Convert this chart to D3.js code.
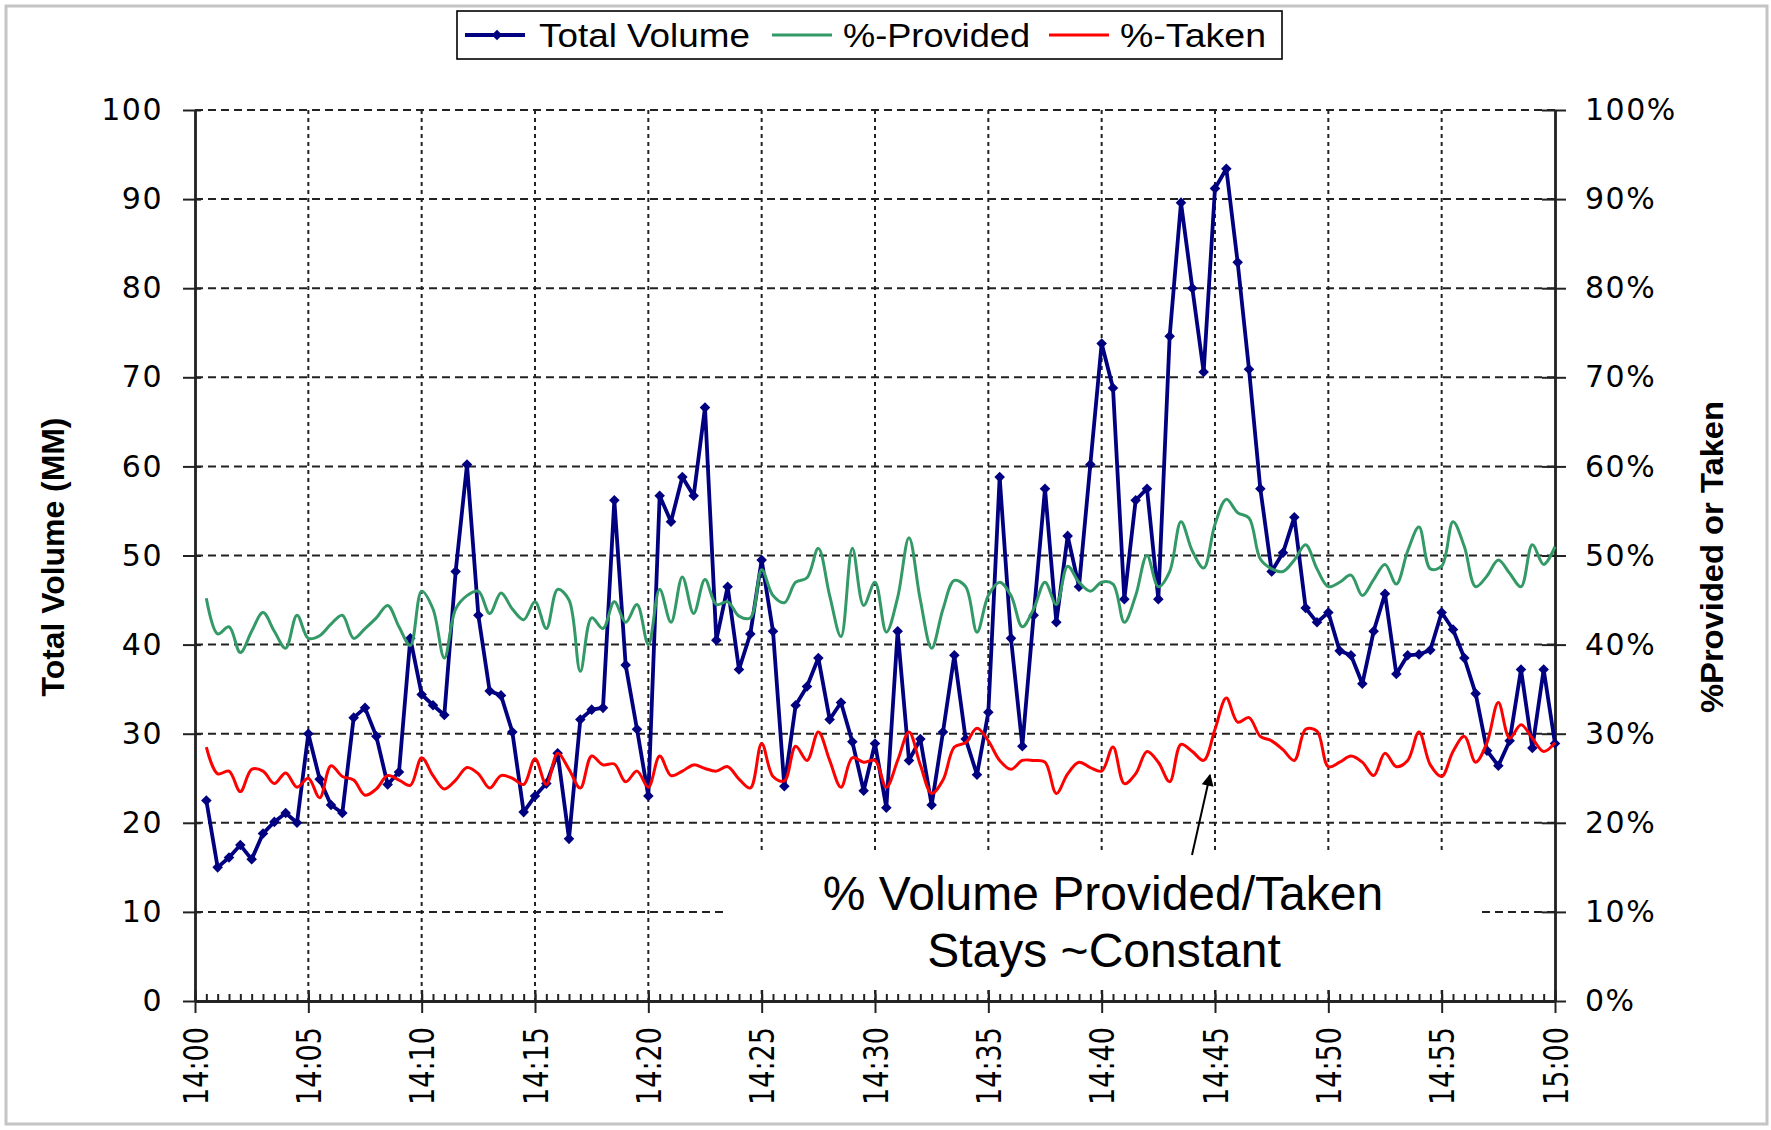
<!DOCTYPE html>
<html>
<head>
<meta charset="utf-8">
<script src="https://cdn.jsdelivr.net/npm/d3@7"></script>
<style>
  body { margin: 0; background: #fff; }
  text { fill: #000; }
</style>
</head>
<body>
<div id="chart"></div>
<script>
// readings every 30 seconds, first one at 14:00:30
var volume = [
    22.5, 15.0, 16.1, 17.5, 15.9, 18.8, 20.1, 21.1, 20.0, 30.0,
    24.9, 22.0, 21.1, 31.8, 32.9, 29.7, 24.3, 25.7, 40.7, 34.4,
    33.2, 32.1, 48.2, 60.2, 43.3, 34.8, 34.3, 30.2, 21.2, 23.0,
    24.4, 27.8, 18.2, 31.6, 32.7, 32.9, 56.2, 37.7, 30.5, 23.0,
    56.7, 53.8, 58.8, 56.7, 66.6, 40.5, 46.5, 37.2, 41.2, 49.5,
    41.5, 24.1, 33.2, 35.3, 38.5, 31.6, 33.5, 29.1, 23.6, 28.9,
    21.7, 41.5, 27.0, 29.4, 22.0, 30.2, 38.8, 29.4, 25.4, 32.4,
    58.8, 40.7, 28.6, 43.3, 57.5, 42.5, 52.2, 46.5, 60.2, 73.8,
    68.8, 45.1, 56.2, 57.5, 45.1, 74.6, 89.6, 80.0, 70.6, 91.2,
    93.4, 82.9, 70.9, 57.5, 48.2, 50.3, 54.3, 44.1, 42.5, 43.6,
    39.3, 38.8, 35.6, 41.5, 45.7, 36.7, 38.8, 38.9, 39.4, 43.6,
    41.7, 38.5, 34.5, 28.1, 26.4, 29.2, 37.2, 28.4, 37.2, 28.9
];
var provided = [
    45.2, 41.2, 42.0, 39.1, 41.5, 43.6, 41.5, 39.6, 43.3, 40.7,
    41.0, 42.3, 43.3, 40.7, 41.8, 43.0, 44.4, 42.0, 39.9, 46.0,
    44.0, 38.5, 44.0, 45.5, 46.0, 43.5, 45.8, 44.0, 42.8, 44.8,
    41.8, 46.2, 45.0, 37.0, 43.0, 41.8, 44.8, 42.5, 44.5, 40.0,
    46.2, 42.5, 47.6, 43.5, 47.3, 44.5, 44.8, 43.2, 43.0, 48.4,
    45.5, 44.7, 47.0, 47.5, 50.8, 45.5, 40.9, 50.8, 44.4, 47.0,
    41.4, 45.3, 52.0, 45.0, 39.6, 44.0, 47.2, 46.5, 41.4, 45.5,
    47.0, 45.5, 42.0, 44.0, 47.0, 44.5, 48.8, 47.0, 46.0, 47.0,
    46.8, 42.5, 45.5, 50.0, 46.5, 48.2, 53.8, 50.5, 48.6, 53.5,
    56.3, 54.8, 54.2, 49.6, 48.5, 48.2, 49.5, 51.2, 48.5, 46.5,
    47.0, 47.8, 45.5, 47.3, 49.0, 46.8, 50.5, 53.2, 48.5, 48.8,
    53.8, 51.0, 46.5, 47.7, 49.5, 48.0, 46.5, 51.2, 49.0, 51.0
];
var taken = [
    28.5, 25.5, 25.8, 23.5, 26.0, 25.8, 24.4, 25.6, 24.0, 25.0,
    22.8, 26.4, 25.2, 24.8, 23.1, 23.8, 25.3, 24.8, 24.2, 27.3,
    25.3, 23.8, 24.8, 26.2, 25.5, 23.9, 25.3, 25.0, 24.3, 27.2,
    24.3, 27.8, 26.0, 23.9, 27.5, 26.5, 26.6, 24.6, 25.8, 24.0,
    27.5, 25.3, 25.8, 26.5, 26.1, 25.8, 26.3, 24.9, 23.9, 28.9,
    25.2, 24.7, 28.6, 27.0, 30.2, 27.0, 24.0, 27.3, 26.8, 27.0,
    24.0, 27.0, 30.2, 26.5, 23.3, 24.8, 28.5, 29.0, 30.6, 29.2,
    27.0, 26.0, 27.0, 27.0, 26.8, 23.3, 25.5, 26.8, 26.2, 25.8,
    28.5, 24.4, 25.5, 28.0, 26.8, 24.6, 28.8, 28.0, 27.0, 30.5,
    34.0, 31.3, 31.8, 29.7, 29.2, 28.2, 27.0, 30.5, 30.3, 26.3,
    26.8, 27.5, 26.8, 25.3, 27.8, 26.3, 27.0, 30.2, 26.5, 25.2,
    28.0, 29.7, 26.8, 29.0, 33.5, 29.5, 31.0, 29.5, 28.0, 29.0
];
var timeTicks = ["14:00", "14:05", "14:10", "14:15", "14:20", "14:25", "14:30",
                 "14:35", "14:40", "14:45", "14:50", "14:55", "15:00"];
var valueTicks = [0, 10, 20, 30, 40, 50, 60, 70, 80, 90, 100];
var startTime = "14:00";
var stepSeconds = 30;

var width = 1771, height = 1130;
var margin = {top: 110, right: 216, bottom: 129, left: 195};
var parseTime = d3.timeParse("%H:%M");
var start = parseTime(startTime);

var x = d3.scaleTime()
    .domain([parseTime(timeTicks[0]), parseTime(timeTicks[timeTicks.length - 1])])
    .range([margin.left, width - margin.right]);
var y = d3.scaleLinear().domain([0, 100]).range([height - margin.bottom, margin.top]);
var y2 = d3.scaleLinear().domain([0, 100]).range([height - margin.bottom, margin.top]);

function toPoints(values) {
    return values.map(function(v, i) {
        return {time: d3.timeSecond.offset(start, (i + 1) * stepSeconds), value: v};
    });
}

var svg = d3.select("#chart").append("svg")
    .attr("width", width)
    .attr("height", height);

svg.append("rect").attr("width", width).attr("height", height).attr("fill", "#fff");
// chart area border
svg.append("rect")
    .attr("x", 6).attr("y", 6).attr("width", 1761).attr("height", 1118)
    .attr("fill", "none").attr("stroke", "#c4c4c4").attr("stroke-width", 3);

var x0 = x.range()[0], x1 = x.range()[1];
var yb = y.range()[0], yt = y.range()[1];

// gridlines
svg.append("g").selectAll("line")
    .data(valueTicks.slice(1))
    .enter().append("line")
        .attr("x1", x0).attr("x2", x1)
        .attr("y1", function(d) { return y(d); })
        .attr("y2", function(d) { return y(d); })
        .attr("stroke", "#222").attr("stroke-width", 2)
        .attr("stroke-dasharray", "8,5");
svg.append("g").selectAll("line")
    .data(timeTicks.slice(1, -1).map(parseTime))
    .enter().append("line")
        .attr("x1", function(d) { return x(d); })
        .attr("x2", function(d) { return x(d); })
        .attr("y1", yt).attr("y2", yb)
        .attr("stroke", "#222").attr("stroke-width", 2)
        .attr("stroke-dasharray", "4,4");

// white box behind the note
svg.append("rect")
    .attr("x", 728).attr("y", 853).attr("width", 752).attr("height", 135)
    .attr("fill", "#fff");

// axes
function styleAxis(g) {
    g.selectAll(".domain").attr("stroke", "#222").attr("stroke-width", 2.4);
    g.selectAll(".tick line").attr("stroke", "#222").attr("stroke-width", 2);
    g.selectAll("text").style("font-family", "'DejaVu Sans', sans-serif")
        .style("font-size", "30px").style("letter-spacing", "1.5px").attr("fill", "#000");
}

svg.append("g")
    .attr("transform", "translate(" + x0 + ",0)")
    .call(d3.axisLeft(y).tickValues(valueTicks).tickSize(12).tickPadding(20).tickSizeOuter(0))
    .call(styleAxis);
svg.append("g")
    .attr("transform", "translate(" + x0 + ",0)")
    .call(d3.axisRight(y).tickValues(valueTicks).tickSize(6).tickFormat("").tickSizeOuter(0))
    .call(styleAxis);

svg.append("g")
    .attr("transform", "translate(" + x1 + ",0)")
    .call(d3.axisRight(y2).tickValues(valueTicks).tickSize(11).tickPadding(19).tickSizeOuter(0)
        .tickFormat(function(d) { return d + "%"; }))
    .call(styleAxis);
svg.append("g")
    .attr("transform", "translate(" + x1 + ",0)")
    .call(d3.axisLeft(y2).tickValues(valueTicks).tickSize(13).tickFormat("").tickSizeOuter(0))
    .call(styleAxis);

svg.append("g")
    .attr("transform", "translate(0," + yb + ")")
    .call(d3.axisTop(x).ticks(d3.timeSecond.every(stepSeconds)).tickSize(7).tickFormat("").tickSizeOuter(0))
    .call(styleAxis);
svg.append("g")
    .attr("transform", "translate(0," + yb + ")")
    .call(d3.axisTop(x).tickValues(timeTicks.map(parseTime)).tickSize(11).tickFormat("").tickSizeOuter(0))
    .call(styleAxis);
var xAxis = svg.append("g")
    .attr("transform", "translate(0," + yb + ")")
    .call(d3.axisBottom(x).tickValues(timeTicks.map(parseTime)).tickSize(12).tickSizeOuter(0)
        .tickFormat(d3.timeFormat("%H:%M")))
    .call(styleAxis);
xAxis.selectAll("text")
    .attr("transform", "rotate(-90)")
    .attr("x", -26).attr("y", 0).attr("dy", "0.36em")
    .attr("textLength", 78).attr("lengthAdjust", "spacingAndGlyphs")
    .style("text-anchor", "end")
    .style("letter-spacing", "0px")
    .style("font-size", "34px");

// axis titles
svg.append("text")
    .attr("transform", "translate(53,557) rotate(-90)")
    .attr("text-anchor", "middle").attr("dy", "0.35em")
    .attr("textLength", 279).attr("lengthAdjust", "spacingAndGlyphs")
    .style("font-family", "'Liberation Sans', Arial, sans-serif")
    .style("font-weight", "bold").style("font-size", "32px")
    .text("Total Volume (MM)");
svg.append("text")
    .attr("transform", "translate(1712,557) rotate(-90)")
    .attr("text-anchor", "middle").attr("dy", "0.35em")
    .attr("textLength", 312).attr("lengthAdjust", "spacingAndGlyphs")
    .style("font-family", "'Liberation Sans', Arial, sans-serif")
    .style("font-weight", "bold").style("font-size", "32px")
    .text("%Provided or Taken");

// series
var volumeLine = d3.line()
    .x(function(d) { return x(d.time); })
    .y(function(d) { return y(d.value); });
var pctLine = d3.line()
    .curve(d3.curveCatmullRom)
    .x(function(d) { return x(d.time); })
    .y(function(d) { return y2(d.value); });

var volumePts = toPoints(volume);
svg.append("path")
    .datum(volumePts)
    .attr("fill", "none").attr("stroke", "#000080").attr("stroke-width", 3.8)
    .attr("stroke-linejoin", "round")
    .attr("d", volumeLine);
var diamond = d3.symbol().type(d3.symbolSquare).size(56);
svg.append("g").selectAll("path")
    .data(volumePts)
    .enter().append("path")
        .attr("d", diamond)
        .attr("transform", function(d) { return "translate(" + x(d.time) + "," + y(d.value) + ") rotate(45)"; })
        .attr("fill", "#000080");

svg.append("path")
    .datum(toPoints(provided))
    .attr("fill", "none").attr("stroke", "#339966").attr("stroke-width", 3)
    .attr("d", pctLine);
svg.append("path")
    .datum(toPoints(taken))
    .attr("fill", "none").attr("stroke", "#ff0000").attr("stroke-width", 3)
    .attr("d", pctLine);

// note and arrow
svg.append("defs").append("marker")
    .attr("id", "head").attr("viewBox", "0 0 10 10")
    .attr("refX", 9).attr("refY", 5)
    .attr("markerWidth", 16).attr("markerHeight", 12)
    .attr("markerUnits", "userSpaceOnUse")
    .attr("orient", "auto")
    .append("path").attr("d", "M0,0L10,5L0,10z").attr("fill", "#000");
svg.append("line")
    .attr("x1", 1192).attr("y1", 855).attr("x2", 1210).attr("y2", 775)
    .attr("stroke", "#000").attr("stroke-width", 2)
    .attr("marker-end", "url(#head)");

var note = svg.append("text")
    .attr("text-anchor", "middle")
    .style("font-family", "'Liberation Sans', Arial, sans-serif")
    .style("font-size", "48px");
note.append("tspan").attr("x", 1103).attr("y", 910).text("% Volume Provided/Taken");
note.append("tspan").attr("x", 1104).attr("y", 967).text("Stays ~Constant");

// legend
function drawLegend() {
    var lg = svg.append("g");
    lg.append("rect")
        .attr("x", 457).attr("y", 11).attr("width", 825).attr("height", 48)
        .attr("fill", "#fff").attr("stroke", "#000").attr("stroke-width", 1.6);
    var items = [
        {name: "Total Volume", color: "#000080", lx: 465, tx: 539, tw: 211, marker: true},
        {name: "%-Provided", color: "#339966", lx: 772, tx: 843, tw: 187, marker: false},
        {name: "%-Taken", color: "#ff0000", lx: 1049, tx: 1120, tw: 146, marker: false}
    ];
    items.forEach(function(it) {
        lg.append("line")
            .attr("x1", it.lx).attr("x2", it.lx + 60).attr("y1", 35).attr("y2", 35)
            .attr("stroke", it.color).attr("stroke-width", it.marker ? 3.8 : 3.2);
        if (it.marker) {
            lg.append("path").attr("d", diamond)
                .attr("transform", "translate(" + (it.lx + 32) + ",35) rotate(45)")
                .attr("fill", it.color);
        }
        lg.append("text")
            .attr("x", it.tx).attr("y", 35).attr("dy", "0.35em")
            .attr("textLength", it.tw).attr("lengthAdjust", "spacingAndGlyphs")
            .style("font-family", "'Liberation Sans', Arial, sans-serif")
            .style("font-size", "33px")
            .text(it.name);
    });
}
drawLegend();
</script>
</body>
</html>
